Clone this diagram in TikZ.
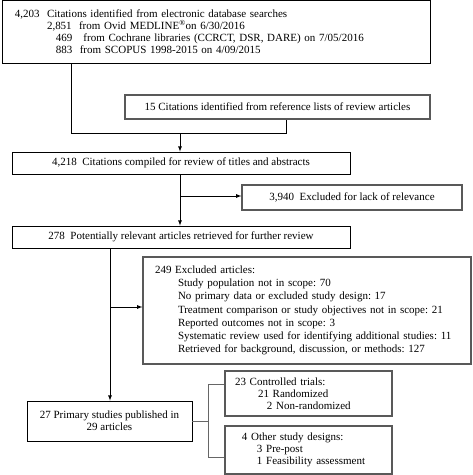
\documentclass[tikz,border=0pt]{standalone}
\usepackage{fontspec}
\setmainfont{Liberation Serif}
\usepackage{tikz}
\usetikzlibrary{arrows,positioning}
\frenchspacing

\begin{document}
\begin{tikzpicture}[x=1pt,y=-1pt]
\tikzstyle{box}=[rectangle,draw,line width=0.8pt,inner xsep=8pt,inner ysep=0pt,font=\fontsize{11}{12.2}\selectfont]
\tikzstyle{greybox}=[box,draw=black!65,line width=1.2pt]
\tikzstyle{link}=[line width=0.8pt,-latex]
\tikzstyle{bracket}=[draw=black!60,line width=0.6pt]
\useasboundingbox (0,0) rectangle (473,475);
\node[box,minimum width=428pt,minimum height=63pt,text width=412pt,align=left] (search) at (216,31.5)
{\hspace*{5pt}4,203\ \ Citations identified from electronic database searches\\
\hspace*{37pt}2,851\ \ from Ovid MEDLINE\textsuperscript{®}on 6/30/2016\\
\hspace*{46pt}469\ \ \ from Cochrane libraries (CCRCT, DSR, DARE) on 7/05/2016\\
\hspace*{46pt}883\ \ from SCOPUS 1998-2015 on 4/09/2015};
\node[greybox,minimum width=305pt,minimum height=24pt] (refs) at (277.5,107)
{15 Citations identified from reference lists of review articles};
\node[box,minimum width=338pt,minimum height=22pt] (compiled) at (181,163)
{4,218\ \ Citations compiled for review of titles and abstracts};
\node[greybox,minimum width=220pt,minimum height=25pt] (lack) at (352,197.5)
{3,940\ \ Excluded for lack of relevance};
\node[box,minimum width=338pt,minimum height=22pt] (retrieved) at (181,237)
{278\ \ Potentially relevant articles retrieved for further review};
\node[greybox,minimum width=328pt,minimum height=107pt,text width=312pt,align=left,font=\fontsize{11}{13.2}\selectfont] (excluded) at (307,310.5)
{\hspace*{4pt}249\ Excluded articles:\\
\hspace*{27pt}Study population not in scope: 70\\
\hspace*{27pt}No primary data or excluded study design: 17\\
\hspace*{27pt}Treatment comparison or study objectives not in scope: 21\\
\hspace*{27pt}Reported outcomes not in scope: 3\\
\hspace*{27pt}Systematic review used for identifying additional studies: 11\\
\hspace*{27pt}Retrieved for background, discussion, or methods: 127};
\node[box,minimum width=165pt,minimum height=40pt,align=center] (primary) at (109.5,421)
{27 Primary studies published in\\29 articles};
\node[greybox,minimum width=167pt,minimum height=45pt,text width=151pt,align=left] (trials) at (308.5,393.5)
{\hspace*{2pt}23\ Controlled trials:\\
\hspace*{25pt}21\ Randomized\\
\hspace*{34pt}2\ Non-randomized};
\node[greybox,minimum width=167pt,minimum height=48pt,text width=151pt,align=left] (other) at (308.5,450)
{\hspace*{9pt}4\ Other study designs:\\
\hspace*{24pt}3\ Pre-post\\
\hspace*{24pt}1\ Feasibility assessment};
% joins
\coordinate (j1) at (71,133);
\coordinate (j2) at (286,133);
\coordinate (j3) at (180,133);
\coordinate (b1) at (180,196);
\coordinate (b2) at (110,307);
\coordinate (b3) at (208,421);
\coordinate (b4) at (208,384);
\coordinate (b5) at (208,457);
\draw[line width=0.8pt] (search.south -| j1) -- (j1) -- (j2) -- (refs.south -| j2);
\draw[link] (j3) -- (compiled.north -| j3);
\draw[link] (compiled.south -| b1) -- (retrieved.north -| b1);
\draw[link] (b1) -- (lack.west |- b1);
\draw[link] (retrieved.south -| b2) -- (primary.north -| b2);
\draw[link] (b2) -- (excluded.west |- b2);
\draw[bracket] (primary.east) -- (b3);
\draw[bracket] (b4) -- (b5);
\draw[bracket] (b4) -- (trials.west |- b4);
\draw[bracket] (b5) -- (other.west |- b5);
\end{tikzpicture}
\end{document}
